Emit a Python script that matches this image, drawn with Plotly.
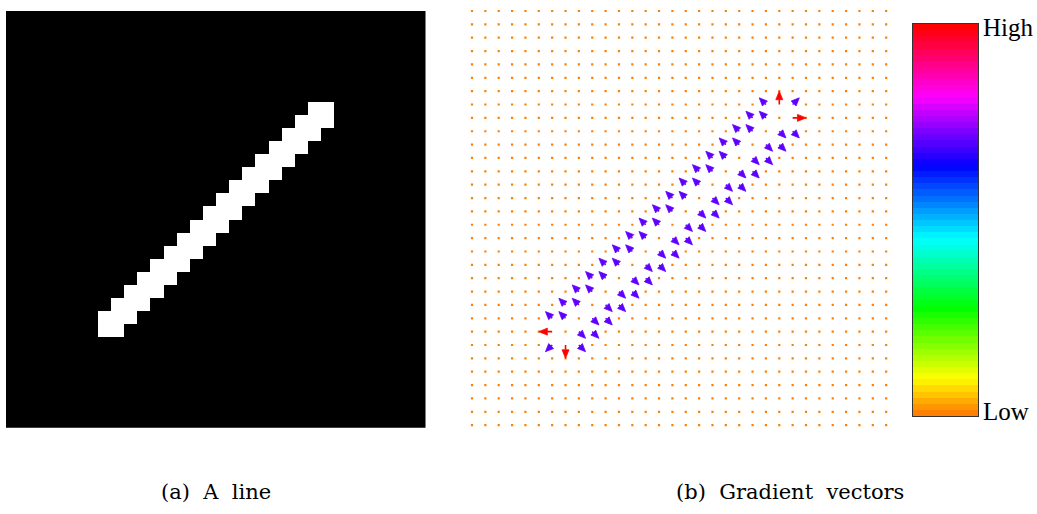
import numpy as np
import plotly.graph_objects as go
from plotly.colors import sample_colorscale

W, H = 1037, 514
N = 32  # image is N x N pixels

# ---- (a) the line image: white runs per row (row, first col, last col) ----
line_rows = [7, 8, 9, 10, 11, 12, 13, 14, 15, 16, 17, 18, 19, 20, 21, 22, 23, 24]
line_first = [23, 22, 21, 20, 19, 18, 17, 16, 15, 14, 13, 12, 11, 10, 9, 8, 7, 7]
line_last = [24, 24, 23, 22, 21, 20, 19, 18, 17, 16, 15, 14, 13, 12, 11, 10, 9, 8]

# ---- (b) gradient vectors: pixel (row, col) and components (u right, v down) ----
arrow_row = [7, 8, 8, 9, 9, 10, 10, 11, 11, 12, 12, 13, 13, 14, 14, 15, 15, 16, 16,
             17, 17, 18, 18, 19, 19, 20, 20, 21, 21, 22, 22, 23, 23,
             9, 9, 10, 10, 11, 11, 12, 12, 13, 13, 14, 14, 15, 15, 16, 16,
             17, 17, 18, 18, 19, 19, 20, 20, 21, 21, 22, 22, 23, 23, 24, 24, 25,
             7, 8, 7, 24, 25, 25]
arrow_col = [22, 21, 22, 20, 21, 19, 20, 18, 19, 17, 18, 16, 17, 15, 16, 14, 15, 13, 14,
             12, 13, 11, 12, 10, 11, 9, 10, 8, 9, 7, 8, 6, 7,
             23, 24, 22, 23, 21, 22, 20, 21, 19, 20, 18, 19, 17, 18, 16, 17,
             15, 16, 14, 15, 13, 14, 12, 13, 11, 12, 10, 11, 9, 10, 8, 9, 8,
             23, 24, 24, 6, 7, 6]
arrow_u = [-0.5] * 33 + [0.5] * 33 + [0.0, 1.0, 0.5, -1.0, 0.0, -0.5]
arrow_v = [-0.5] * 33 + [0.5] * 33 + [-1.0, 0.0, -0.5, 0.0, 1.0, 0.5]

# ---- rainbow colour map, Low -> High ----
rainbow_pos = [0.0, 0.09, 0.27, 0.45, 0.64, 0.82, 1.0]
rainbow_col = ["#ff7f00", "#ffff00", "#00ff00", "#00ffff", "#0000ff", "#ff00ff", "#ff0000"]
rainbow = [[p, c] for p, c in zip(rainbow_pos, rainbow_col)]
n_levels = 64

# build the image
img = np.zeros((N, N))
for r, c0, c1 in zip(line_rows, line_first, line_last):
    img[r, c0:c1 + 1] = 1.0

fig = go.Figure()

fig.add_trace(go.Heatmap(
    z=img.tolist(), x=list(range(N)), y=list(range(N)),
    colorscale=[[0, "black"], [1, "white"]], zmin=0, zmax=1,
    showscale=False, zsmooth=False, hoverinfo="skip",
    xaxis="x", yaxis="y"))

# zero-gradient grid points drawn as small dots
has_arrow = set(zip(arrow_row, arrow_col))
dot_x, dot_y = [], []
for r in range(N):
    for c in range(N):
        if (r, c) not in has_arrow:
            dot_x.append(c)
            dot_y.append(r)
low_color = sample_colorscale(rainbow, [0.0])[0]
fig.add_trace(go.Scatter(
    x=dot_x, y=dot_y, mode="markers",
    marker=dict(symbol="square", size=2.2, color=low_color, line=dict(width=0)),
    hoverinfo="skip", xaxis="x2", yaxis="y2"))

# arrows: shaft + filled head, coloured by magnitude
u = np.array(arrow_u)
v = np.array(arrow_v)
mag = np.hypot(u, v)
mag_max = mag.max()
head_len = 0.64
head_half = 0.26
for m in sorted(set(np.round(mag, 4))):
    col = sample_colorscale(rainbow, [float(m / mag_max)])[0]
    sx, sy, hx, hy = [], [], [], []
    for r, c, du, dv, mm in zip(arrow_row, arrow_col, u, v, mag):
        if abs(round(mm, 4) - m) > 1e-6:
            continue
        dx, dy = du / mm, dv / mm
        tip = (c + du, r + dv)
        hl = min(head_len, 0.85 * mm)
        base = (tip[0] - hl * dx, tip[1] - hl * dy)
        px, py = -dy, dx
        sx += [c, base[0], None]
        sy += [r, base[1], None]
        hx += [tip[0], base[0] + head_half * px, base[0] - head_half * px, tip[0], None]
        hy += [tip[1], base[1] + head_half * py, base[1] - head_half * py, tip[1], None]
    fig.add_trace(go.Scatter(x=sx, y=sy, mode="lines", line=dict(color=col, width=1.6),
                             hoverinfo="skip", xaxis="x2", yaxis="y2"))
    fig.add_trace(go.Scatter(x=hx, y=hy, mode="lines", fill="toself", fillcolor=col,
                             line=dict(color=col, width=0.8),
                             hoverinfo="skip", xaxis="x2", yaxis="y2"))

# colour bar as a stack of bands
levels = [[k / (n_levels - 1)] for k in range(n_levels)]
fig.add_trace(go.Heatmap(
    z=levels, x=[0], y=list(range(n_levels)),
    colorscale=rainbow, zmin=0, zmax=1, showscale=False, zsmooth=False,
    hoverinfo="skip", xaxis="x3", yaxis="y3"))


def px_x(a, b):
    return [a / W, b / W]


def px_y(top, bottom):
    return [1 - bottom / H, 1 - top / H]


cell = 13.36
hidden = dict(visible=False, showgrid=False, zeroline=False, fixedrange=True)
fig.update_layout(
    width=W, height=H,
    margin=dict(l=0, r=0, t=0, b=0),
    paper_bgcolor="white", plot_bgcolor="white",
    showlegend=False,
    xaxis=dict(domain=px_x(6, 425.5), range=[-0.5, N - 0.5], **hidden),
    yaxis=dict(domain=px_y(11, 427.7), range=[N - 0.5, -0.5], **hidden),
    xaxis2=dict(domain=px_x(472 - cell / 2, 472 + (N - 0.5) * cell),
                range=[-0.5, N - 0.5], anchor="y2", **hidden),
    yaxis2=dict(domain=px_y(11 - cell / 2, 11 + (N - 0.5) * cell),
                range=[N - 0.5, -0.5], anchor="x2", **hidden),
    xaxis3=dict(domain=px_x(913, 978), range=[-0.5, 0.5], anchor="y3",
                showline=True, mirror=True, linecolor="#333", linewidth=1,
                showticklabels=False, ticks="", showgrid=False, zeroline=False),
    yaxis3=dict(domain=px_y(24, 416), range=[-0.5, n_levels - 0.5], anchor="x3",
                showline=True, mirror=True, linecolor="#333", linewidth=1,
                showticklabels=False, ticks="", showgrid=False, zeroline=False),
)

label_font = dict(family="Liberation Serif", size=25, color="black")
caption_font = dict(family="DejaVu Serif", size=21, color="black")
fig.add_annotation(text="High", x=981 / W, y=1 - 27 / H, xref="paper", yref="paper",
                   xanchor="left", yanchor="middle", showarrow=False, font=label_font)
fig.add_annotation(text="Low", x=981 / W, y=1 - 411 / H, xref="paper", yref="paper",
                   xanchor="left", yanchor="middle", showarrow=False, font=label_font)
fig.add_annotation(text="(a)  A  line", x=216 / W, y=1 - 492 / H, xref="paper", yref="paper",
                   xanchor="center", yanchor="middle", showarrow=False, font=caption_font)
fig.add_annotation(text="(b)  Gradient  vectors", x=790 / W, y=1 - 492 / H, xref="paper",
                   yref="paper", xanchor="center", yanchor="middle", showarrow=False,
                   font=caption_font)

fig.write_html("out.html")
